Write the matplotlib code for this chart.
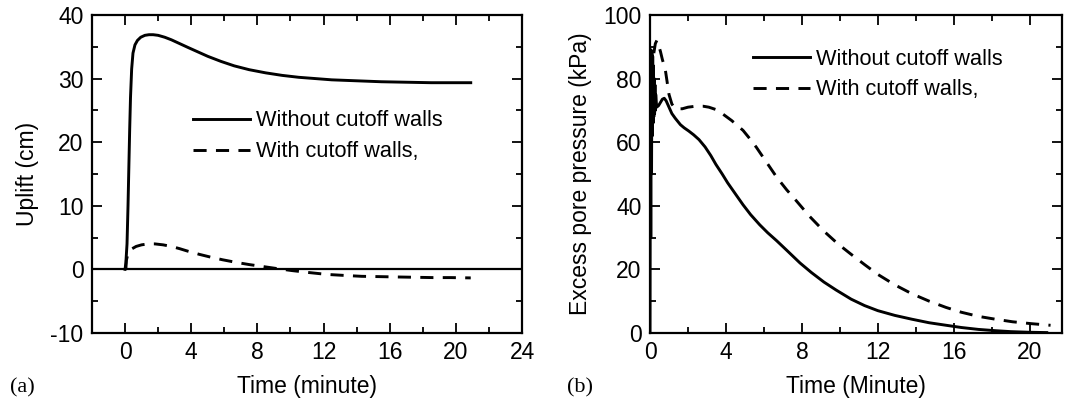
import matplotlib.pyplot as plt
from matplotlib.ticker import MultipleLocator

plt.rcParams['font.family'] = ['Liberation Sans', 'DejaVu Sans']
plt.rcParams['font.size'] = 16.5
plt.rcParams['axes.unicode_minus'] = False

# (a) uplift
t_a_no = [0.0, 0.05, 0.12, 0.18, 0.23, 0.28, 0.33, 0.4, 0.48, 0.6, 0.75, 0.95, 1.2, 1.45, 1.7,
          2.0, 2.4, 2.8, 3.3, 3.8, 4.4, 5.0, 5.8, 6.6, 7.5, 8.5, 9.5, 10.5, 11.5, 12.5, 13.5,
          14.5, 15.5, 16.5, 17.5, 18.5, 19.5, 20.9]
up_no = [0.0, 1.0, 4.0, 10.0, 16.0, 21.9, 27.0, 31.5, 34.0, 35.3, 36.0, 36.5, 36.8, 36.9, 36.9,
         36.8, 36.5, 36.1, 35.5, 34.9, 34.2, 33.5, 32.7, 32.0, 31.4, 30.9, 30.5, 30.2, 30.0,
         29.8, 29.7, 29.6, 29.5, 29.45, 29.4, 29.35, 29.35, 29.35]
t_a_with = [0.05, 0.08, 0.15, 0.25, 0.4, 0.67, 1.0, 1.4, 1.8, 2.3, 2.8, 3.3, 3.8, 4.5, 5.2, 5.9,
            6.7, 7.5, 8.3, 9.1, 10.1, 11.1, 12.2, 13.2, 14.3, 15.4, 16.4, 17.5, 18.6, 19.7, 20.9]
up_with = [0.0, 1.4, 2.2, 2.7, 3.2, 3.6, 3.85, 4.0, 4.0, 3.85, 3.6, 3.25, 2.85, 2.35, 1.9, 1.5,
           1.1, 0.75, 0.45, 0.15, -0.2, -0.5, -0.8, -0.95, -1.1, -1.15, -1.2, -1.25, -1.3,
           -1.3, -1.35]

# (b) excess pore pressure
t_b_no = [0.0, 0.02, 0.04, 0.06, 0.08, 0.10, 0.12, 0.14, 0.16, 0.18, 0.20, 0.22, 0.24, 0.26,
          0.28, 0.3, 0.35, 0.45, 0.55, 0.65, 0.75, 0.85, 1.0, 1.15, 1.33, 1.6, 1.8, 2.04, 2.3,
          2.58, 2.9, 3.2, 3.47, 3.8, 4.09, 4.5, 4.9, 5.3, 5.78, 6.2, 6.67, 7.2, 7.9, 8.5, 9.16,
          9.8, 10.6, 11.3, 12.0, 12.9, 13.8, 14.7, 15.6, 16.4, 17.3, 18.2, 19.0, 20.0, 20.9]
pp_no = [0.0, 86.0, 30.0, 89.0, 50.0, 88.0, 62.0, 87.0, 66.0, 84.0, 68.0, 80.0, 69.0, 78.0,
         70.0, 75.0, 71.0, 71.5, 72.5, 73.5, 73.8, 73.0, 71.0, 69.0, 67.5, 65.5, 64.5, 63.5,
         62.3, 60.8, 58.5, 55.8, 53.0, 50.0, 47.2, 43.7, 40.3, 37.2, 34.0, 31.5, 29.0, 26.0,
         22.0, 19.0, 16.0, 13.5, 10.6, 8.6, 7.0, 5.5, 4.3, 3.2, 2.4, 1.7, 1.1, 0.7, 0.4, 0.2, 0.1]
t_b_with = [0.2, 0.28, 0.36, 0.45, 0.55, 0.65, 0.8, 0.9, 1.0, 1.15, 1.33, 1.7, 2.0, 2.4, 2.8,
            3.1, 3.5, 3.8, 4.3, 4.9, 5.2, 5.6, 6.1, 6.67, 7.2, 7.7, 8.4, 9.16, 9.9, 10.6, 11.3,
            12.0, 12.9, 13.8, 14.7, 15.6, 16.4, 17.3, 18.2, 19.1, 20.1, 21.1]
pp_with = [88.0, 91.0, 92.0, 90.5, 88.5, 86.0, 83.0, 79.0, 75.0, 72.0, 70.5, 70.5, 71.0, 71.3,
           71.3, 71.0, 70.2, 69.0, 66.8, 63.7, 61.5, 58.4, 54.0, 49.0, 45.0, 41.6, 36.7, 32.0,
           28.0, 24.7, 21.5, 18.4, 15.1, 12.3, 10.0, 8.0, 6.5, 5.2, 4.3, 3.5, 2.9, 2.4]

fig = plt.figure(figsize=(10.73, 4.05), dpi=100)
ax1 = fig.add_axes([0.0857, 0.178, 0.4008, 0.785])
ax2 = fig.add_axes([0.6058, 0.178, 0.3839, 0.785])

dash = (4.5, 3.2)
leg_kw = dict(loc='upper left', frameon=False, fontsize=15.7, handlelength=2.6,
              handletextpad=0.3, labelspacing=0.45, borderpad=0, borderaxespad=0)

ax1.axhline(0, color='black', lw=1.6)
ax1.plot(t_a_no, up_no, color='black', lw=2.1, label='Without cutoff walls')
ax1.plot(t_a_with, up_with, color='black', lw=2.1, dashes=dash, label='With cutoff walls,')
ax1.set_xlim(-2, 24)
ax1.set_ylim(-10, 40)
ax1.xaxis.set_major_locator(MultipleLocator(4))
ax1.xaxis.set_minor_locator(MultipleLocator(2))
ax1.yaxis.set_major_locator(MultipleLocator(10))
ax1.yaxis.set_minor_locator(MultipleLocator(5))
ax1.set_xlabel('Time (minute)', labelpad=8)
ax1.set_ylabel('Uplift (cm)', labelpad=8)
ax1.legend(bbox_to_anchor=(0.235, 0.70), **leg_kw)

ax2.plot(t_b_no, pp_no, color='black', lw=2.1, label='Without cutoff walls')
ax2.plot(t_b_with, pp_with, color='black', lw=2.1, dashes=dash, label='With cutoff walls,')
ax2.set_xlim(0, 21.7)
ax2.set_ylim(0, 100)
ax2.xaxis.set_major_locator(MultipleLocator(4))
ax2.xaxis.set_minor_locator(MultipleLocator(2))
ax2.yaxis.set_major_locator(MultipleLocator(20))
ax2.yaxis.set_minor_locator(MultipleLocator(10))
ax2.set_xlabel('Time (Minute)', labelpad=8)
ax2.set_ylabel('Excess pore pressure (kPa)', labelpad=8)
ax2.legend(bbox_to_anchor=(0.25, 0.894), **leg_kw)

for ax in (ax1, ax2):
    for s in ax.spines.values():
        s.set_linewidth(1.6)
    ax.tick_params(which='both', direction='in', top=True, right=True, width=1.3)
    ax.tick_params(which='major', length=7, pad=6)
    ax.tick_params(which='minor', length=4)

fig.text(0.009, 0.03, '(a)', family='Liberation Serif', fontsize=16)
fig.text(0.528, 0.03, '(b)', family='Liberation Serif', fontsize=16)

fig.savefig('out.png', dpi=100)
